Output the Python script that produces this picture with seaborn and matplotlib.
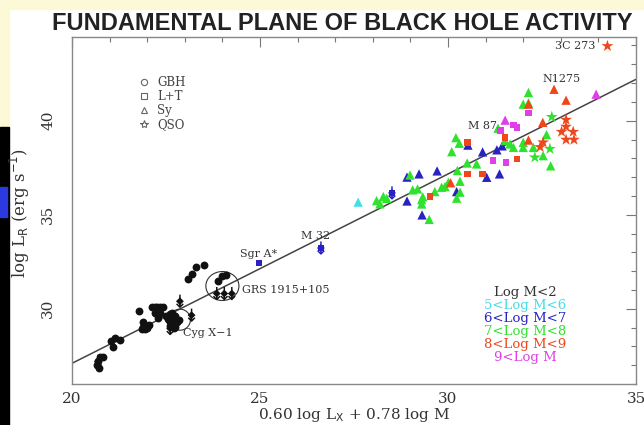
import numpy as np
import pandas as pd
import matplotlib
matplotlib.use("Agg")
import matplotlib.pyplot as plt
from matplotlib.patches import Ellipse, Rectangle
from matplotlib.lines import Line2D
import seaborn as sns

# Galactic black holes (log M < 2)
gbh_x = [20.66, 20.69, 20.74, 20.82, 20.72, 21.05, 21.09, 21.14, 21.28, 21.79,
         21.85, 21.9, 21.95, 22.0, 21.93, 22.05, 21.9, 22.12, 22.2, 22.27, 22.35,
         22.43, 22.2, 22.35, 22.3, 22.5, 22.6, 22.65, 22.7, 22.75, 22.6, 22.7, 22.8,
         22.55, 22.65, 22.75, 22.85, 22.7, 22.6, 23.09, 23.2, 23.3, 23.5, 23.88,
         23.99, 24.1]
gbh_y = [27.0, 27.2, 27.45, 27.45, 26.85, 28.3, 27.97, 28.45, 28.34, 29.87,
         28.95, 29.05, 29.1, 29.0, 28.9, 29.15, 29.3, 30.07, 30.07, 30.07, 30.07,
         30.07, 29.8, 29.75, 29.5, 29.6, 29.7, 29.5, 29.4, 29.6, 29.3, 29.2, 29.3,
         29.45, 29.8, 29.05, 29.4, 29.0, 29.1, 31.6, 31.85, 32.2, 32.35, 31.5,
         31.75, 31.8]

# AGN by mass bin: x, y, source type
cyan_x = [27.61]
cyan_y = [35.67]
cyan_kind = ["Sy"]

blue_x = [24.97, 26.62, 28.51, 28.91, 29.23, 29.71, 28.91, 29.31, 30.92, 30.53,
          31.03, 30.23, 31.3, 31.37, 31.44]
blue_y = [32.44, 33.23, 36.16, 37.0, 37.17, 37.33, 35.73, 34.99, 38.34, 38.7,
          36.99, 36.23, 38.45, 37.17, 38.66]
blue_kind = ["LT", "LT", "LT", "Sy", "Sy", "Sy", "Sy", "Sy", "Sy", "Sy",
             "Sy", "Sy", "Sy", "Sy", "Sy"]

green_x = [28.19, 28.28, 28.37, 28.1, 28.99, 29.06, 29.19, 29.3, 29.3, 29.33,
           29.5, 29.65, 29.83, 29.92, 30.01, 30.1, 30.21, 30.3, 30.25, 30.51,
           30.76, 30.32, 30.32, 30.23, 31.33, 31.52, 31.65, 31.74, 32.0, 32.0,
           32.27, 32.14, 32.0, 32.14, 32.76, 32.62, 32.71, 32.31, 32.53, 32.73]
green_y = [35.58, 35.97, 35.87, 35.75, 37.11, 36.32, 36.37, 35.8, 35.57, 35.95,
           34.75, 36.23, 36.46, 36.5, 36.73, 38.35, 39.1, 38.8, 37.35, 37.75,
           37.7, 36.78, 36.2, 35.88, 39.6, 38.94, 38.76, 38.58, 38.85, 38.58,
           38.58, 41.5, 40.88, 40.95, 40.2, 39.26, 38.5, 38.05, 38.14, 37.6]
green_kind = ["Sy"] * 34 + ["QSO", "Sy", "QSO", "QSO", "Sy", "Sy"]

red_x = [30.52, 30.52, 30.92, 29.52, 31.52, 31.83, 30.07, 32.14, 32.52, 32.14,
         32.82, 33.14, 32.53, 32.45, 33.14, 33.14, 33.02, 33.33, 33.14, 33.35,
         34.24]
red_y = [38.83, 37.17, 37.17, 35.97, 39.11, 37.96, 36.7, 38.97, 39.91, 40.88,
         41.67, 41.09, 38.85, 38.6, 40.05, 39.68, 39.41, 39.41, 38.99, 38.99,
         43.97]
red_kind = ["LT", "LT", "LT", "LT", "LT", "LT", "Sy", "Sy", "Sy", "Sy",
            "Sy", "Sy", "QSO", "QSO", "QSO", "QSO", "QSO", "QSO", "QSO", "QSO",
            "QSO"]

mag_x = [33.94, 32.14, 31.52, 31.4, 31.74, 31.83, 31.54, 31.2]
mag_y = [41.41, 40.41, 40.03, 39.47, 39.76, 39.64, 37.79, 37.88]
mag_kind = ["Sy", "LT", "Sy", "LT", "LT", "LT", "LT", "LT"]

# upper limits (arrows)
lim_x = [20.69, 22.61, 22.87, 23.18, 23.85, 24.05, 24.25, 26.62, 28.51]
lim_y = [27.2, 28.95, 30.4, 29.66, 30.81, 30.81, 30.81, 33.23, 36.16]
lim_color = ["#111111"] * 7 + ["#2a22c0"] * 2

# fitted plane
fit_x = [20, 35]
fit_y = [27.1, 42.2]

bin_labels = ["Log M<2", "5<Log M<6", "6<Log M<7", "7<Log M<8", "8<Log M<9", "9<Log M"]
bin_colors = ["#111111", "#45dde6", "#2a22c0", "#2ee22e", "#f0461c", "#e03ee6"]

src_labels = ["GBH", "L+T", "Sy", "QSO"]

ann_text = ["3C 273", "N1275", "M 87", "M 32", "Sgr A*", "GRS 1915+105", "Cyg X\u22121"]
ann_x = [33.91, 33.03, 31.3, 26.49, 24.97, 24.52, 22.96]
ann_y = [43.97, 42.22, 39.73, 33.85, 32.93, 30.98, 28.69]
ann_ha = ["right", "center", "right", "center", "center", "left", "left"]

agn = pd.concat([
    pd.DataFrame({"x": cyan_x, "y": cyan_y, "kind": cyan_kind, "bin": bin_labels[1]}),
    pd.DataFrame({"x": blue_x, "y": blue_y, "kind": blue_kind, "bin": bin_labels[2]}),
    pd.DataFrame({"x": green_x, "y": green_y, "kind": green_kind, "bin": bin_labels[3]}),
    pd.DataFrame({"x": red_x, "y": red_y, "kind": red_kind, "bin": bin_labels[4]}),
    pd.DataFrame({"x": mag_x, "y": mag_y, "kind": mag_kind, "bin": bin_labels[5]}),
], ignore_index=True)

sns.set_style("white")
plt.rcParams["font.family"] = ["DejaVu Serif"]

fig = plt.figure(figsize=(6.44, 4.25), dpi=100)
fig.patch.set_facecolor("white")
# slide background remnants
fig.patches.append(Rectangle((0, 1 - 9 / 425), 1, 9 / 425, transform=fig.transFigure,
                             color="#fcfad6", zorder=0))
fig.patches.append(Rectangle((0, 298 / 425), 9 / 644, 118 / 425, transform=fig.transFigure,
                             color="#fcfad6", zorder=0))
fig.patches.append(Rectangle((0, 0), 9 / 644, 298 / 425, transform=fig.transFigure,
                             color="black", zorder=0))
fig.patches.append(Rectangle((0, 208 / 425), 7 / 644, 30 / 425, transform=fig.transFigure,
                             color="#2a3ae0", zorder=1))

ax = fig.add_axes([72 / 644, 1 - 384 / 425, 564 / 644, 347 / 425])

ax.plot(fit_x, fit_y, color="#444444", lw=1.1, zorder=1)

sns.scatterplot(x=gbh_x, y=gbh_y, color=bin_colors[0], s=32, linewidth=0, ax=ax, zorder=3)
sns.scatterplot(data=agn, x="x", y="y", hue="bin", palette=dict(zip(bin_labels, bin_colors)),
                style="kind", markers={"LT": "s", "Sy": "^", "QSO": "*"},
                size="kind", sizes={"LT": 22, "Sy": 45, "QSO": 80},
                linewidth=0, legend=False, ax=ax, zorder=3)

# upper limits
ax.scatter(lim_x, lim_y, c=lim_color, marker="D", s=16, linewidths=0, zorder=4)
ax.scatter(lim_x, lim_y, c=lim_color, marker="$\\downarrow$", s=90, linewidths=0, zorder=4)

# circled sources
ax.add_patch(Ellipse((24.0, 31.21), 0.88, 1.54, fill=False, ec="#333333", lw=0.8))
ax.add_patch(Ellipse((22.87, 29.42), 0.56, 1.12, fill=False, ec="#333333", lw=0.8))

for t, x, y, ha in zip(ann_text, ann_x, ann_y, ann_ha):
    ax.text(x, y, t, ha=ha, va="center", fontsize=8, color="#333333")

# symbol legend
handles = [Line2D([], [], ls="none", marker=m, mfc="none", mec="#666666", ms=ms, mew=0.8)
           for m, ms in zip(["o", "s", "^", "*"], [4.5, 4.5, 5, 6])]
leg = ax.legend(handles, src_labels, loc="upper left", bbox_to_anchor=(0.118, 0.888),
                frameon=False, fontsize=8.5, handlelength=0.9, handletextpad=0.7,
                labelspacing=0.1, borderpad=0, borderaxespad=0)
for t in leg.get_texts():
    t.set_color("#444444")

# mass bin key
for i, (lab, col) in enumerate(zip(bin_labels, bin_colors)):
    ax.text(0.803, 0.265 - i * 0.0375, lab, transform=ax.transAxes, ha="center",
            va="center", fontsize=9.5, color=col if i else "#333333")

ax.set_xlim(20, 35)
ax.set_ylim(26, 44.45)
ax.set_xticks([20, 25, 30, 35])
ax.set_yticks([30, 35, 40])
ax.set_xticks(np.arange(20, 36, 1), minor=True)
ax.set_yticks(np.arange(26, 45, 1), minor=True)
ax.tick_params(which="both", direction="in", top=True, right=True, colors="#777777",
               labelcolor="#333333", labelsize=11, width=0.8)
ax.tick_params(which="major", length=7)
ax.tick_params(which="minor", length=3.5)
ax.tick_params(axis="x", pad=6)
ax.tick_params(axis="y", pad=12)
for lab in ax.get_yticklabels():
    lab.set_rotation(90)
    lab.set_va("center")
for sp in ax.spines.values():
    sp.set_color("#888888")
    sp.set_linewidth(1)
ax.set_xlabel("")
ax.set_ylabel("")

fig.text(0.55, 0.024, "0.60 log L$_\\mathrm{X}$ + 0.78 log M", ha="center", va="center",
         fontsize=11, color="#333333")
fig.text(0.031, 0.50, "log L$_\\mathrm{R}$ (erg s$^{-1}$)", ha="center", va="center",
         rotation=90, fontsize=12, color="#333333")
fig.text(0.531, 0.944, "FUNDAMENTAL PLANE OF BLACK HOLE ACTIVITY", ha="center", va="center",
         fontsize=17, fontweight="bold", family="Liberation Sans", color="#222222")

fig.savefig("out.png", dpi=100)
